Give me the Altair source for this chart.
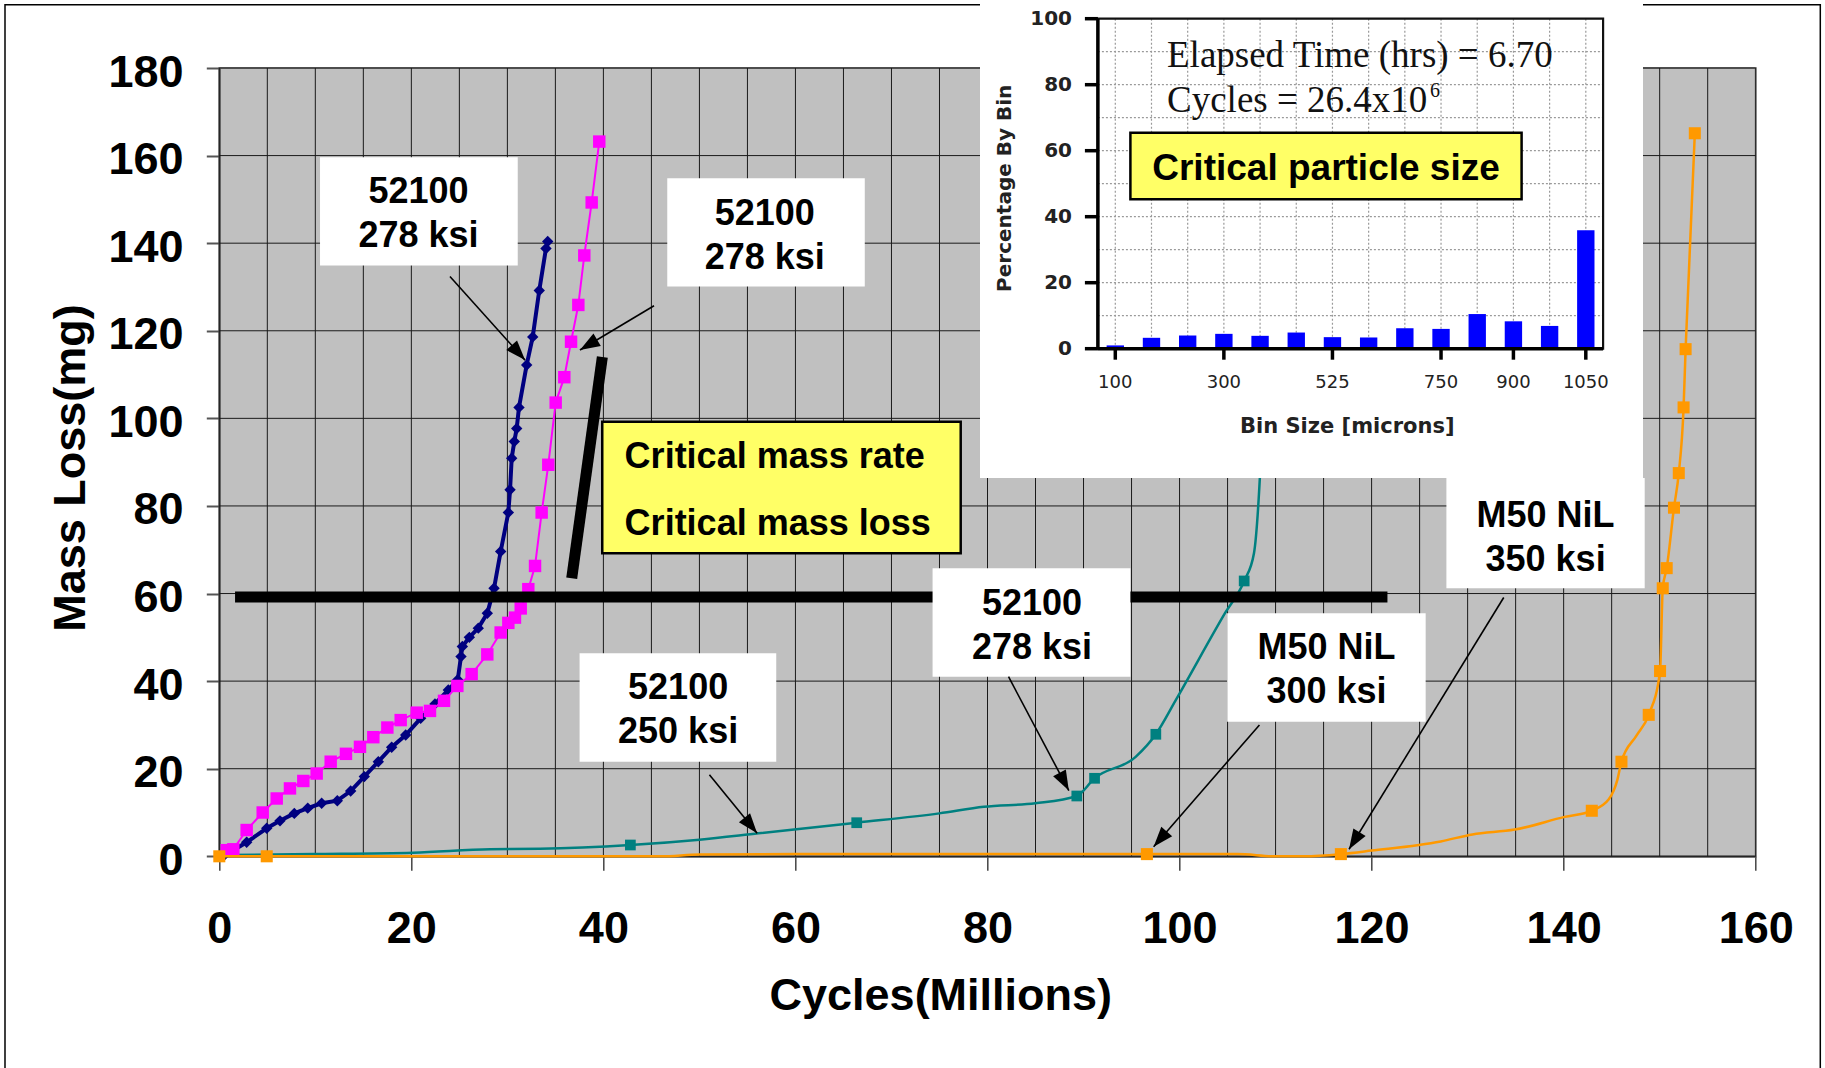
import math
import altair as alt
import pandas as pd

# ---------------- main chart data (cycles in millions, mass loss in mg) ----------------
navy_x = [0.4, 2.85, 4.94, 6.32, 7.81, 9.21, 10.66, 12.29, 13.68, 15.10, 16.56, 17.95, 19.41, 20.97,
          22.46, 23.85, 24.83, 25.17, 25.31, 26.04, 26.97, 27.91, 28.61, 29.30, 30.10, 30.28, 30.45,
          30.72, 30.97, 31.21, 32.01, 32.64, 33.32, 34.02, 34.20]
navy_y = [0.0, 3.2, 6.4, 8.1, 9.8, 11.0, 12.1, 12.7, 14.9, 18.2, 21.6, 24.9, 27.7, 31.5, 34.8, 38.0,
          40.3, 45.6, 47.9, 50.0, 52.1, 55.5, 61.2, 69.6, 78.5, 83.7, 90.9, 94.7, 97.7, 102.5, 112.2,
          118.6, 129.2, 138.8, 140.4]

mag_x = [0.77, 1.46, 2.85, 4.52, 5.98, 7.36, 8.75, 10.14, 11.60, 13.19, 14.65, 16.04, 17.50, 18.89,
         20.56, 21.94, 23.40, 24.79, 26.28, 27.91, 29.30, 30.10, 30.79, 31.39, 32.18, 32.88, 33.57,
         34.26, 35.03, 35.93, 36.63, 37.39, 38.01, 38.78, 39.57]
mag_y = [1.4, 1.6, 6.0, 10.0, 13.2, 15.5, 17.2, 18.9, 21.6, 23.4, 25.0, 27.2, 29.4, 31.1, 32.8, 33.2,
         35.5, 38.9, 41.6, 46.1, 51.1, 53.3, 54.5, 56.6, 61.0, 66.3, 78.5, 89.4, 103.6, 109.4, 117.5,
         125.9, 137.2, 149.3, 163.2]

teal_x = [0.5, 9.8, 20.2, 28.2, 33.4, 42.81, 50.0, 56.15, 66.38, 74.98, 79.62, 84.98, 89.30, 91.15,
          95.43, 97.53, 99.62, 104.73, 106.73, 107.75, 108.36, 108.9]
teal_y = [0.3, 0.5, 0.8, 1.6, 1.7, 2.58, 3.8, 5.25, 7.67, 9.8, 11.3, 12.1, 13.77, 17.81, 22.7, 27.86,
          35.7, 55.5, 62.87, 69.2, 86.3, 115.0]
teal_mx = [42.81, 66.38, 89.30, 91.15, 97.53, 106.73]
teal_my = [2.58, 7.67, 13.77, 17.81, 27.86, 62.87]

orng_x = [0, 4.94, 46, 50, 60, 80, 96.6, 106, 110, 113, 116.8, 120, 127.2, 130.5, 134.9, 140.1,
          142.93, 144.7, 145.6, 146.02, 147.6, 148.86, 150.04, 150.32, 150.73, 151.49, 151.99,
          152.49, 152.70, 153.66]
orng_y = [0, 0, 0, 0.4, 0.5, 0.5, 0.5, 0.5, 0.0, 0.0, 0.5, 1.3, 3.4, 5.0, 6.1, 9.0, 10.4, 13.0, 17.5,
          21.6, 27.6, 32.3, 42.3, 61.2, 65.8, 79.6, 87.5, 102.5, 115.8, 165.1]
orng_mx = [0, 4.94, 96.6, 116.8, 142.93, 146.02, 148.86, 150.04, 150.32, 150.73, 151.49, 151.99,
           152.49, 152.70, 153.66]
orng_my = [0, 0, 0.5, 0.5, 10.4, 21.6, 32.3, 42.3, 61.2, 65.8, 79.6, 87.5, 102.5, 115.8, 165.1]

# annotation boxes (data coordinates)
box_x1 = [10.49, 46.65, 37.52, 74.28, 104.96, 127.79]
box_x2 = [31.08, 67.22, 58.00, 94.88, 125.63, 148.44]
box_y1 = [159.6, 154.8, 46.36, 65.77, 55.47, 86.39]
box_y2 = [134.9, 130.1, 21.60, 41.00, 30.74, 61.20]
box_tx = [20.75, 56.8, 47.78, 84.63, 115.31, 138.12]
box_ty = [147.2, 142.2, 33.8, 53.0, 42.93, 73.19]
box_txt = ["52100\n278 ksi", "52100\n278 ksi", "52100\n250 ksi", "52100\n278 ksi",
           "M50 NiL\n300 ksi", "M50 NiL\n350 ksi"]

crit_box = [39.88, 77.21, 99.25, 69.2]
crit_tx = [42.21, 42.21]
crit_ty = [91.64, 76.41]
crit_txt = ["Critical mass rate", "Critical mass loss"]

thick_x1 = [1.64, 36.70]
thick_y1 = [59.2, 63.5]
thick_x2 = [121.65, 39.89]
thick_y2 = [59.2, 114.0]

arr_x1 = [24.02, 45.27, 51.04, 82.19, 108.32, 133.76]
arr_y1 = [132.4, 125.7, 18.6, 41.0, 30.0, 59.1]
arr_x2 = [31.84, 37.56, 56.01, 88.47, 97.30, 117.65]
arr_y2 = [113.3, 115.6, 5.25, 15.0, 2.2, 1.6]

# inset data
bins = [100, 150, 225, 300, 375, 450, 525, 600, 675, 750, 825, 900, 975, 1050]
pct = [1.0, 3.3, 4.0, 4.5, 3.9, 4.9, 3.5, 3.4, 6.2, 6.0, 10.5, 8.3, 6.9, 35.9]
bin_ticks = [100, 300, 525, 750, 900, 1050]
pct_ticks = [0, 20, 40, 60, 80, 100]
pct_grid = [10, 20, 30, 40, 50, 60, 70, 80, 90]

# ---------------- layout ----------------
W, H = 1536.4, 788.3
OX, OY = 219.3, 68.0
PAD = {"left": OX, "top": OY, "right": 1825 - OX - W, "bottom": 1068 - OY - H}
PX_X = W / 160.0
PX_Y = H / 180.0
LH = 44

FONT = "Liberation Sans"
IFONT = "DejaVu Sans"
SERIF = "Liberation Serif"

XS = alt.Scale(domain=[0, 160], nice=False, zero=False)
YS = alt.Scale(domain=[0, 180], nice=False, zero=False)

AX = alt.Axis(values=list(range(0, 161, 20)), title="Cycles(Millions)", grid=False,
              labelFlush=False, labelOverlap=False, labelFont=FONT, labelFontSize=45,
              labelFontWeight="bold", labelColor="black", labelBaseline="alphabetic",
              labelPadding=71.7, tickSize=14, tickColor="#444", tickWidth=1.5,
              domainColor="#555", domainWidth=2, titleFont=FONT, titleFontSize=45,
              titleFontWeight="bold", titleColor="black", titleX=721, titleY=152.7,
              titleAlign="center", titleBaseline="alphabetic")
AY = alt.Axis(values=list(range(0, 181, 20)), title="Mass Loss(mg)", grid=False,
              labelFlush=False, labelOverlap=False, labelFont=FONT, labelFontSize=45,
              labelFontWeight="bold", labelColor="black", labelBaseline="middle",
              labelPadding=23.3, labelOffset=4, tickSize=13, tickColor="#555", tickWidth=2,
              domainColor="#555", domainWidth=2, titleFont=FONT, titleFontSize=45,
              titleFontWeight="bold", titleColor="black", titleAngle=270, titleX=-126,
              titleY=399.5, titleAlign="center", titleBaseline="bottom")


def X(f):
    return alt.X(f, type="quantitative", scale=XS, axis=AX)


def Y(f):
    return alt.Y(f, type="quantitative", scale=YS, axis=AY)


one = pd.DataFrame({"a": [0]})

frame = alt.Chart(one).mark_rect(fill="white", fillOpacity=0, stroke="black", strokeWidth=1.5).encode(
    x=alt.value(5 - OX), x2=alt.value(1820.3 - OX), y=alt.value(4.7 - OY), y2=alt.value(1080 - OY))

vgrid = alt.Chart(pd.DataFrame({"gx": list(range(0, 161, 5))})).mark_rule(
    color="#1a1a1a", strokeWidth=1).encode(x=X("gx"))
hgrid = alt.Chart(pd.DataFrame({"gy": list(range(0, 181, 20))})).mark_rule(
    color="#1a1a1a", strokeWidth=1).encode(y=Y("gy"))


def series(xs, ys, color, width, interp):
    return alt.Chart(pd.DataFrame({"x": xs, "y": ys})).mark_line(
        color=color, strokeWidth=width, interpolate=interp).encode(x=X("x"), y=Y("y"))


def markers(xs, ys, color, shape, size):
    return alt.Chart(pd.DataFrame({"x": xs, "y": ys})).mark_point(
        shape=shape, filled=True, color=color, opacity=1, size=size, strokeWidth=0).encode(
        x=X("x"), y=Y("y"))


teal_l = series(teal_x, teal_y, "#008080", 2.5, "monotone")
teal_p = markers(teal_mx, teal_my, "#008080", "square", 115)
navy_l = series(navy_x, navy_y, "#000080", 4, "linear")
navy_p = markers(navy_x, navy_y, "#000080", "diamond", 130)
mag_l = series(mag_x, mag_y, "#FF00FF", 2, "linear")
mag_p = markers(mag_x, mag_y, "#FF00FF", "square", 155)
orng_l = series(orng_x, orng_y, "#FF9900", 2.5, "monotone")
orng_p = markers(orng_mx, orng_my, "#FF9900", "square", 145)

thick = alt.Chart(pd.DataFrame({"x1": thick_x1, "y1": thick_y1, "x2": thick_x2, "y2": thick_y2})).mark_rule(
    color="black", strokeWidth=11, strokeCap="butt").encode(
    x=X("x1"), y=Y("y1"), x2=alt.X2("x2"), y2=alt.Y2("y2"))

boxes_df = pd.DataFrame({"x1": box_x1, "x2": box_x2, "y1": box_y1, "y2": box_y2,
                         "tx": box_tx, "ty": box_ty, "label": box_txt})
boxes = alt.Chart(boxes_df).mark_rect(fill="white", strokeWidth=0).encode(
    x=X("x1"), x2=alt.X2("x2"), y=Y("y1"), y2=alt.Y2("y2"))
box_text = alt.Chart(boxes_df).mark_text(
    font=FONT, fontSize=36, fontWeight="bold", lineBreak="\n", lineHeight=LH,
    align="center", baseline="middle", dy=2 - LH / 2, color="black").encode(
    x=X("tx"), y=Y("ty"), text="label:N")

crit_rect = alt.Chart(pd.DataFrame({"x1": [crit_box[0]], "x2": [crit_box[1]],
                                    "y1": [crit_box[2]], "y2": [crit_box[3]]})).mark_rect(
    fill="#FFFF66", stroke="black", strokeWidth=2.5).encode(
    x=X("x1"), x2=alt.X2("x2"), y=Y("y1"), y2=alt.Y2("y2"))
crit_text = alt.Chart(pd.DataFrame({"tx": crit_tx, "ty": crit_ty, "label": crit_txt})).mark_text(
    font=FONT, fontSize=36, fontWeight="bold", align="left", baseline="middle", dy=2,
    color="black").encode(x=X("tx"), y=Y("ty"), text="label:N")

arr_df = pd.DataFrame({"x1": arr_x1, "y1": arr_y1, "x2": arr_x2, "y2": arr_y2})
arr_df["ang"] = [
    math.degrees(math.atan2((b - a) * PX_X, (d - c) * PX_Y)) % 360
    for a, b, c, d in zip(arr_x1, arr_x2, arr_y1, arr_y2)
]
arr_lines = alt.Chart(arr_df).mark_rule(color="black", strokeWidth=1.6).encode(
    x=X("x1"), y=Y("y1"), x2=alt.X2("x2"), y2=alt.Y2("y2"))
arr_heads = alt.Chart(arr_df).mark_point(
    shape="M0,0L-0.36,1L0.36,1Z", filled=True, color="black", opacity=1, size=1600,
    strokeWidth=0).encode(x=X("x2"), y=Y("y2"), angle=alt.Angle("ang:Q", scale=None))

main = alt.layer(frame, vgrid, hgrid, teal_l, teal_p, navy_l, navy_p, mag_l, mag_p, orng_l, orng_p,
                 thick, boxes, box_text, crit_rect, crit_text, arr_lines, arr_heads)

# ---------------- inset ----------------
IL, IR = 1097.9 - OX, 1603.1 - OX      # inset plot frame (relative px)
IB, IT = 348.7 - OY, 18.7 - OY
XB = alt.Scale(type="band", domain=bins, range=[1097.2 - OX, 1603.9 - OX],
               paddingInner=0.52, paddingOuter=0.26)
YB = alt.Scale(domain=[0, 100], range=[IB, IT], nice=False, zero=False)


def XI(f):
    return alt.X(f, type="ordinal", scale=XB, axis=None)


def YI(f):
    return alt.Y(f, type="quantitative", scale=YB, axis=None)


inset_bg = alt.Chart(one).mark_rect(fill="white", strokeWidth=0).encode(
    x=alt.value(980 - OX), x2=alt.value(1643 - OX), y=alt.value(0 - OY), y2=alt.value(478 - OY))

bars_df = pd.DataFrame({"bin": bins, "pct": pct, "base": [0] * len(bins), "top": [100] * len(bins)})
i_vgrid = alt.Chart(bars_df).mark_rule(color="#9a9a9a", strokeWidth=1.2, strokeDash=[2, 2]).encode(
    x=XI("bin"), y=YI("base"), y2=alt.Y2("top"))
i_hgrid = alt.Chart(pd.DataFrame({"g": pct_grid})).mark_rule(
    color="#9a9a9a", strokeWidth=1.2, strokeDash=[2, 2]).encode(
    y=YI("g"), x=alt.value(IL), x2=alt.value(IR))
i_bars = alt.Chart(bars_df).mark_bar(color="#0000FF").encode(
    x=XI("bin"), y=YI("pct"), y2=alt.Y2("base"))
i_frame = alt.Chart(one).mark_rect(fill="white", fillOpacity=0, stroke="#111", strokeWidth=2.2).encode(
    x=alt.value(IL), x2=alt.value(IR), y=alt.value(IT), y2=alt.value(IB))
i_left = alt.Chart(one).mark_rule(color="black", strokeWidth=3.5).encode(
    x=alt.value(IL), y=alt.value(IT), y2=alt.value(IB))
i_bottom = alt.Chart(one).mark_rule(color="black", strokeWidth=3.5).encode(
    x=alt.value(IL), x2=alt.value(IR), y=alt.value(IB))

yt_df = pd.DataFrame({"t": pct_ticks, "lbl": [str(v) for v in pct_ticks]})
i_yticks = alt.Chart(yt_df).mark_rule(color="black", strokeWidth=3.5).encode(
    y=YI("t"), x=alt.value(IL - 13), x2=alt.value(IL))
i_ylabels = alt.Chart(yt_df).mark_text(
    font=IFONT, fontSize=20, fontWeight="bold", color="#222", align="right", baseline="middle").encode(
    y=YI("t"), x=alt.value(1072 - OX), text="lbl:N")

xt_df = pd.DataFrame({"bin": bin_ticks, "lbl": [str(v) for v in bin_ticks]})
i_xticks = alt.Chart(xt_df).mark_rule(color="black", strokeWidth=3.5).encode(
    x=XI("bin"), y=alt.value(IB), y2=alt.value(IB + 11))
i_xlabels = alt.Chart(xt_df).mark_text(
    font=IFONT, fontSize=18, color="#222", align="center", baseline="top").encode(
    x=XI("bin"), y=alt.value(374 - OY), text="lbl:N")

i_ytitle = alt.Chart(one).mark_text(
    text="Percentage By Bin", font=IFONT, fontSize=20, fontWeight="bold", color="#222",
    angle=270, align="center", baseline="middle").encode(
    x=alt.value(1004.7 - OX), y=alt.value(188.3 - OY))
i_xtitle = alt.Chart(one).mark_text(
    text="Bin Size [microns]", font=IFONT, fontSize=21, fontWeight="bold", color="#222",
    align="center", baseline="alphabetic").encode(
    x=alt.value(1347.3 - OX), y=alt.value(433.3 - OY))

i_t1 = alt.Chart(one).mark_text(
    text="Elapsed Time (hrs) = 6.70", font=SERIF, fontSize=37, color="#111",
    align="left", baseline="alphabetic").encode(x=alt.value(1167 - OX), y=alt.value(66.7 - OY))
i_t2 = alt.Chart(one).mark_text(
    text="Cycles = 26.4x10", font=SERIF, fontSize=37, color="#111",
    align="left", baseline="alphabetic").encode(x=alt.value(1167 - OX), y=alt.value(111.7 - OY))
i_t3 = alt.Chart(one).mark_text(
    text="6", font=SERIF, fontSize=20, color="#111",
    align="left", baseline="alphabetic").encode(x=alt.value(1430 - OX), y=alt.value(96.7 - OY))

i_ybox = alt.Chart(one).mark_rect(fill="#FFFF66", stroke="black", strokeWidth=2.5).encode(
    x=alt.value(1130.4 - OX), x2=alt.value(1521.6 - OX), y=alt.value(132.7 - OY), y2=alt.value(199.3 - OY))
i_ytext = alt.Chart(one).mark_text(
    text="Critical particle size", font=FONT, fontSize=37, fontWeight="bold", color="black",
    align="center", baseline="alphabetic").encode(x=alt.value(1326 - OX), y=alt.value(180 - OY))

inset = alt.layer(inset_bg, i_vgrid, i_hgrid, i_bars, i_frame, i_left, i_bottom, i_yticks, i_ylabels,
                  i_xticks, i_xlabels, i_ytitle, i_xtitle, i_t1, i_t2, i_t3, i_ybox, i_ytext)

chart = alt.layer(main, inset).resolve_scale(x="independent", y="independent").properties(
    width=W, height=H, padding=PAD, autosize=alt.AutoSizeParams(type="none")
).configure(background="white").configure_view(fill="#C0C0C0", stroke="#808080", strokeWidth=2)

chart.save("out.html", embed_options={"renderer": "svg", "actions": False})
